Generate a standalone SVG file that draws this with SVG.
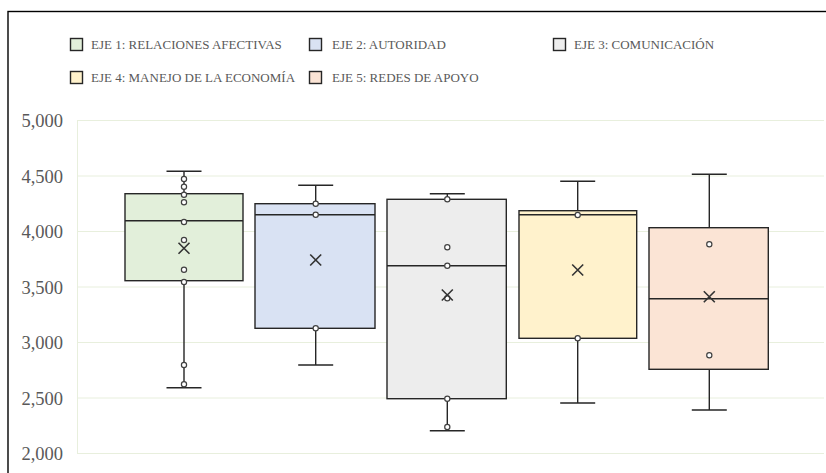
<svg xmlns="http://www.w3.org/2000/svg" width="826" height="473" viewBox="0 0 826 473">
<style>
.grid{stroke:#E8EFDD;stroke-width:1;fill:none}
.ax{font-family:"Liberation Serif","Times New Roman",serif;font-size:18.5px;fill:#595959;text-anchor:end}
.lg{font-family:"Liberation Serif","Times New Roman",serif;font-size:13px;fill:#595959}
.sw{stroke:#262626;stroke-width:1.4}
.box{stroke:#262626;stroke-width:1.4}
.ln{stroke:#262626;stroke-width:1.4;fill:none}
.pt{fill:#ffffff;stroke:#404040;stroke-width:1.2}
.mx{stroke:#333333;stroke-width:1.6;fill:none}
.g1{fill:#E2EFDA}.g2{fill:#D9E2F3}.g3{fill:#EDEDED}.g4{fill:#FFF2CC}.g5{fill:#FBE4D5}
</style>
<rect x="0" y="0" width="826" height="473" fill="#ffffff"/>
<rect x="8" y="11.5" width="840" height="480" fill="none" stroke="#000000" stroke-width="1.4"/>
<g id="legend">
<g id="leg1"><rect class="sw g1" x="70.5" y="38.5" width="12" height="12"/><text class="lg" x="91" y="49">EJE 1: RELACIONES AFECTIVAS</text></g>
<g id="leg2"><rect class="sw g2" x="309.5" y="38.5" width="12" height="12"/><text class="lg" x="332" y="49">EJE 2: AUTORIDAD</text></g>
<g id="leg3"><rect class="sw g3" x="553.5" y="38.5" width="12" height="12"/><text class="lg" x="574" y="49">EJE 3: COMUNICACIÓN</text></g>
<g id="leg4"><rect class="sw g4" x="70.5" y="71.5" width="12" height="12"/><text class="lg" x="91" y="82">EJE 4: MANEJO DE LA ECONOMÍA</text></g>
<g id="leg5"><rect class="sw g5" x="309.5" y="71.5" width="12" height="12"/><text class="lg" x="332" y="82">EJE 5: REDES DE APOYO</text></g>
</g>
<g id="axis">
<path class="grid" d="M77,120.5H824M77,176H824M77,231.5H824M77,287H824M77,342.5H824M77,398H824M77,453.5H824M77.5,120V454"/>
<text class="ax" x="63" y="127">5,000</text>
<text class="ax" x="63" y="182.5">4,500</text>
<text class="ax" x="63" y="238">4,000</text>
<text class="ax" x="63" y="293.5">3,500</text>
<text class="ax" x="63" y="349">3,000</text>
<text class="ax" x="63" y="404.5">2,500</text>
<text class="ax" x="63" y="460">2,000</text>
</g>
<g id="connectors"></g>
<g id="eje1">
<path class="ln" d="M184,193.7V171.3M166.5,171.3H201.5M184,280.7V387.7M166.5,387.7H201.5"/>
<rect class="box g1" x="125" y="193.7" width="118" height="87"/>
<path class="ln" d="M125,220.7H243"/>
<circle class="pt" cx="184" cy="179" r="2.6"/><circle class="pt" cx="184" cy="186.7" r="2.6"/><circle class="pt" cx="184" cy="194.7" r="2.6"/><circle class="pt" cx="184" cy="202.3" r="2.6"/><circle class="pt" cx="184" cy="222" r="2.6"/><circle class="pt" cx="184" cy="240" r="2.6"/><circle class="pt" cx="184" cy="269.7" r="2.6"/><circle class="pt" cx="184" cy="282" r="2.6"/><circle class="pt" cx="184" cy="365" r="2.6"/><circle class="pt" cx="184" cy="384.3" r="2.6"/>
<path class="mx" d="M178.5,242.8L189.5,253.8M189.5,242.8L178.5,253.8"/>
</g>
<g id="eje2">
<path class="ln" d="M315.7,203.7V185.3M298.2,185.3H333.2M315.7,328.3V365M298.2,365H333.2"/>
<rect class="box g2" x="255" y="203.7" width="120" height="124.6"/>
<path class="ln" d="M255,214.7H375"/>
<circle class="pt" cx="315.7" cy="203.7" r="2.6"/><circle class="pt" cx="315.7" cy="214.7" r="2.6"/><circle class="pt" cx="315.7" cy="328.3" r="2.6"/>
<path class="mx" d="M310.2,254.5L321.2,265.5M321.2,254.5L310.2,265.5"/>
</g>
<g id="eje3">
<path class="ln" d="M447.3,199.3V193.7M429.8,193.7H464.8M447.3,398.7V430.7M429.8,430.7H464.8"/>
<rect class="box g3" x="387" y="199.3" width="119.3" height="199.4"/>
<path class="ln" d="M387,265.7H506.3"/>
<circle class="pt" cx="447.3" cy="199.3" r="2.6"/><circle class="pt" cx="447.3" cy="247.3" r="2.6"/><circle class="pt" cx="447.3" cy="265.7" r="2.6"/><circle class="pt" cx="447.3" cy="298.3" r="2.6"/><circle class="pt" cx="447.3" cy="398.7" r="2.6"/><circle class="pt" cx="447.3" cy="427" r="2.6"/>
<path class="mx" d="M441.8,289.5L452.8,300.5M452.8,289.5L441.8,300.5"/>
</g>
<g id="eje4">
<path class="ln" d="M577.7,210.7V181.3M560.2,181.3H595.2M577.7,338.3V403M560.2,403H595.2"/>
<rect class="box g4" x="519" y="210.7" width="117.7" height="127.6"/>
<path class="ln" d="M519,214.7H636.7"/>
<circle class="pt" cx="577.7" cy="215" r="2.6"/><circle class="pt" cx="577.7" cy="338.3" r="2.6"/>
<path class="mx" d="M572.2,264.5L583.2,275.5M583.2,264.5L572.2,275.5"/>
</g>
<g id="eje5">
<path class="ln" d="M709.3,227.7V174.3M691.8,174.3H726.8M709.3,369.3V410M691.8,410H726.8"/>
<rect class="box g5" x="649" y="227.7" width="119.3" height="141.6"/>
<path class="ln" d="M649,298.7H768.3"/>
<circle class="pt" cx="709.3" cy="244.3" r="2.6"/><circle class="pt" cx="709.3" cy="355.3" r="2.6"/>
<path class="mx" d="M703.8,291.2L714.8,302.2M714.8,291.2L703.8,302.2"/>
</g>
</svg>
